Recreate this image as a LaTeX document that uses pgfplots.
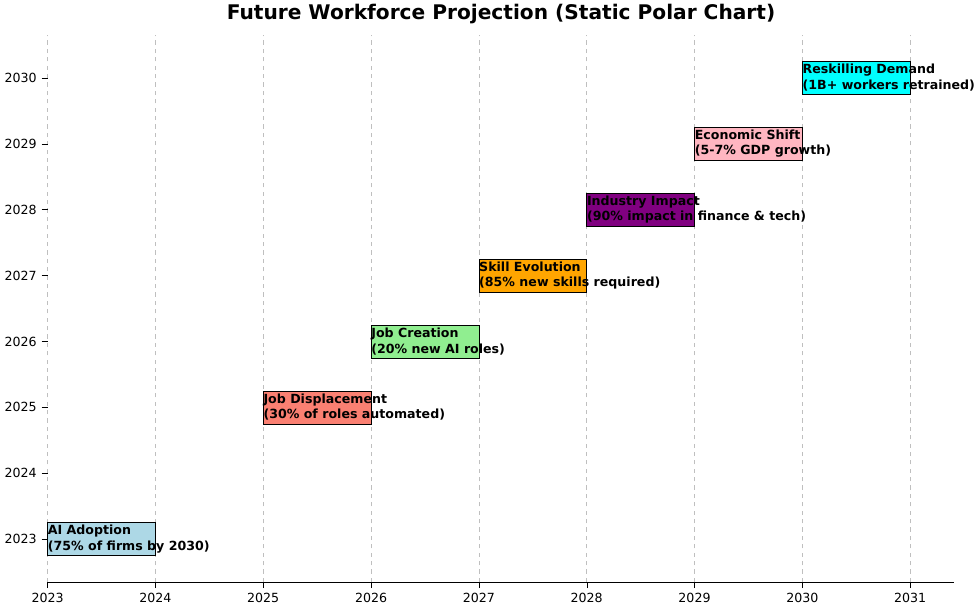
\documentclass[border=0pt]{standalone}
\usepackage{pgfplots}
\pgfplotsset{compat=1.18}
\usepackage{fontspec}
\setmainfont{DejaVu Sans}
\definecolor{lb}{RGB}{173,216,230}
\definecolor{salmon}{RGB}{250,128,114}
\definecolor{lg}{RGB}{144,238,144}
\definecolor{orng}{RGB}{255,165,0}
\definecolor{purp}{RGB}{128,0,128}
\definecolor{pnk}{RGB}{255,182,193}
\definecolor{cyn}{RGB}{0,255,255}
\begin{document}
\begin{tikzpicture}
\begin{axis}[
  scale only axis, width=648pt, height=391pt,
  xmin=2023, xmax=2031.41, ymin=2022.35, ymax=2030.65,
  axis x line*=bottom, axis y line*=left,
  y axis line style={draw=none},
  x axis line style={-},
  xtick={2023,...,2031}, ytick={2023,...,2030},
  minor x tick num=9,
  xmajorgrids, major grid style={dashed, gray!50},
  tick align=outside, tick style={black},
  xtick pos=bottom, ytick pos=left,
  /pgf/number format/1000 sep={},
  /pgf/number format/assume math mode=true,
  ticklabel style={font=\small},
  title={\bfseries Future Workforce Projection (Static Polar Chart)},
  title style={font=\Large, yshift=-2pt},
  nodes near coords={}, clip=false,
]
\addplot[fill=lb,draw=black] coordinates {(2023,2022.75)(2024,2022.75)(2024,2023.25)(2023,2023.25)} -- cycle;
\addplot[fill=salmon,draw=black] coordinates {(2025,2024.75)(2026,2024.75)(2026,2025.25)(2025,2025.25)} -- cycle;
\addplot[fill=lg,draw=black] coordinates {(2026,2025.75)(2027,2025.75)(2027,2026.25)(2026,2026.25)} -- cycle;
\addplot[fill=orng,draw=black] coordinates {(2027,2026.75)(2028,2026.75)(2028,2027.25)(2027,2027.25)} -- cycle;
\addplot[fill=purp,draw=black] coordinates {(2028,2027.75)(2029,2027.75)(2029,2028.25)(2028,2028.25)} -- cycle;
\addplot[fill=pnk,draw=black] coordinates {(2029,2028.75)(2030,2028.75)(2030,2029.25)(2029,2029.25)} -- cycle;
\addplot[fill=cyn,draw=black] coordinates {(2030,2029.75)(2031,2029.75)(2031,2030.25)(2030,2030.25)} -- cycle;
\tikzset{lab/.style={anchor=west, inner sep=0pt, align=left, font=\small\bfseries}}
\node[lab] at (axis cs:2023,2023) {AI Adoption\\(75\% of firms by 2030)};
\node[lab] at (axis cs:2025,2025) {Job Displacement\\(30\% of roles automated)};
\node[lab] at (axis cs:2026,2026) {Job Creation\\(20\% new AI roles)};
\node[lab] at (axis cs:2027,2027) {Skill Evolution\\(85\% new skills required)};
\node[lab] at (axis cs:2028,2028) {Industry Impact\\(90\% impact in finance \& tech)};
\node[lab] at (axis cs:2029,2029) {Economic Shift\\(5-7\% GDP growth)};
\node[lab] at (axis cs:2030,2030) {Reskilling Demand\\(1B+ workers retrained)};
\end{axis}
\end{tikzpicture}
\end{document}
